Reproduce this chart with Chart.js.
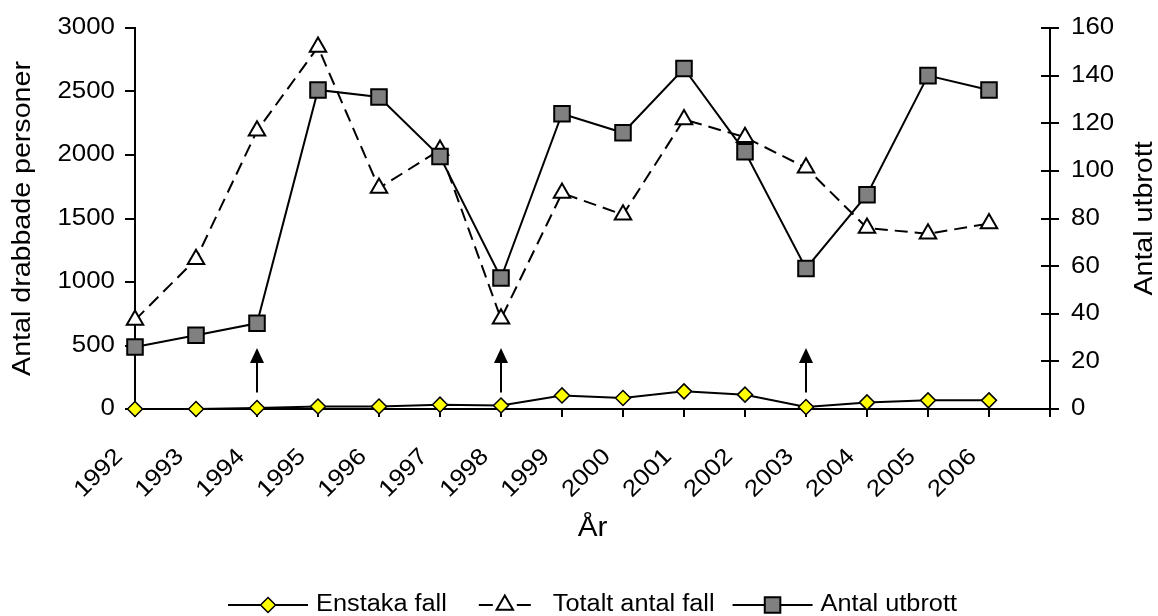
<!DOCTYPE html>
<html>
<head>
<meta charset="utf-8">
<script src="https://cdn.jsdelivr.net/npm/chart.js@4.4.1/dist/chart.umd.min.js"></script>
<style>
  html, body { margin: 0; padding: 0; background: #ffffff; }
  #wrap { width: 1158px; height: 616px; }
</style>
</head>
<body>
<div id="wrap"><canvas id="chart" width="1158" height="616"></canvas></div>
<script>
// Years on the category axis
const years = ['1992', '1993', '1994', '1995', '1996', '1997', '1998', '1999',
               '2000', '2001', '2002', '2003', '2004', '2005', '2006'];

// Persons affected (left axis)
const enstakaFall = [0, 0, 8, 20, 20, 34, 28, 107, 87, 139, 113, 16, 52, 68, 68];
const totaltAntalFall = [700, 1180, 2190, 2850, 1740, 2040, 710, 1700, 1530, 2280, 2140, 1900, 1425, 1380, 1460];

// Number of outbreaks (right axis)
const antalUtbrott = [26, 31, 36, 134, 131, 106, 55, 124, 116, 143, 108, 59, 90, 140, 134];

// Axis ranges and steps
const leftAxis = { min: 0, max: 3000, step: 500 };
const rightAxis = { min: 0, max: 160, step: 20 };

// Years marked with an upward arrow, and the arrow's extent in left-axis units
const arrowYears = ['1994', '1998', '2003'];
const arrowFrom = 130;
const arrowTo = 480;

const seriesNames = ['Enstaka fall', 'Totalt antal fall', 'Antal utbrott'];
const axisTitles = { x: 'År', left: 'Antal drabbade personer', right: 'Antal utbrott' };

const FONT = '"Liberation Sans", Arial, Helvetica, sans-serif';
const TICK_FONT = { family: FONT, size: 23.5 };
const TITLE_FONT = { family: FONT, size: 26 };
const X_TITLE_FONT = { family: FONT, size: 27 };
const LEGEND_SIZE = 23;
const TEXT_STRETCH = 1.1;   // lettering drawn slightly wider than normal

const LAYOUT = { left: 135, right: 1050, top: 28, bottom: 409, xAxisBottom: 548 };

const canvas = document.getElementById('chart');
const ctx2d = canvas.getContext('2d');

// Draw all text horizontally widened, and report the widened width for layout
(function widenText(ctx, sx) {
  const fill = ctx.fillText.bind(ctx);
  const measure = ctx.measureText.bind(ctx);
  ctx.fillText = function (text, x, y) {
    this.save();
    this.translate(x, y);
    this.scale(sx, 1);
    fill(text, 0, 0);
    this.restore();
  };
  ctx.measureText = function (text) {
    const m = measure(text);
    return {
      width: m.width * sx,
      actualBoundingBoxLeft: m.actualBoundingBoxLeft * sx,
      actualBoundingBoxRight: m.actualBoundingBoxRight * sx,
      actualBoundingBoxAscent: m.actualBoundingBoxAscent,
      actualBoundingBoxDescent: m.actualBoundingBoxDescent
    };
  };
})(ctx2d, TEXT_STRETCH);

// Marker drawing used by the legend
function drawMarker(ctx, style, x, y, r, fill, lw) {
  ctx.save();
  ctx.fillStyle = fill;
  ctx.strokeStyle = '#000';
  ctx.lineWidth = lw;
  ctx.beginPath();
  if (style === 'rectRot') {
    ctx.moveTo(x, y - r); ctx.lineTo(x + r, y); ctx.lineTo(x, y + r); ctx.lineTo(x - r, y);
  } else if (style === 'triangle') {
    for (let i = 0; i < 3; i++) {
      const a = i * 2 * Math.PI / 3;
      const px = x + Math.sin(a) * r, py = y - Math.cos(a) * r;
      if (i === 0) ctx.moveTo(px, py); else ctx.lineTo(px, py);
    }
  } else {
    const s = r * Math.SQRT1_2;
    ctx.rect(x - s, y - s, 2 * s, 2 * s);
  }
  ctx.closePath();
  ctx.fill();
  ctx.stroke();
  ctx.restore();
}

const extras = {
  id: 'extras',
  afterDraw(chart) {
    const ctx = chart.ctx;
    const xs = chart.scales.x;
    const yl = chart.scales.y;
    const yr = chart.scales.y1;

    // inner half of the right-axis tick marks
    ctx.save();
    ctx.strokeStyle = '#000';
    ctx.lineWidth = 2;
    yr.ticks.forEach((t, i) => {
      const py = Math.round(yr.getPixelForTick(i));
      ctx.beginPath();
      ctx.moveTo(yr.left - 9, py);
      ctx.lineTo(yr.left, py);
      ctx.stroke();
    });
    ctx.restore();

    // arrows
    ctx.save();
    ctx.strokeStyle = '#000';
    ctx.fillStyle = '#000';
    ctx.lineWidth = 2;
    arrowYears.forEach(yr0 => {
      const ax = xs.getPixelForValue(years.indexOf(yr0));
      const y0 = yl.getPixelForValue(arrowFrom);
      const y1 = yl.getPixelForValue(arrowTo);
      ctx.beginPath();
      ctx.moveTo(ax, y0);
      ctx.lineTo(ax, y1 + 12);
      ctx.stroke();
      ctx.beginPath();
      ctx.moveTo(ax, y1);
      ctx.lineTo(ax + 7, y1 + 15);
      ctx.lineTo(ax - 7, y1 + 15);
      ctx.closePath();
      ctx.fill();
    });
    ctx.restore();

    // right axis title, reading bottom to top
    ctx.save();
    ctx.fillStyle = '#000';
    ctx.font = `${TITLE_FONT.size}px ${FONT}`;
    ctx.textAlign = 'center';
    ctx.textBaseline = 'middle';
    ctx.translate(1145, (yr.top + yr.bottom) / 2);
    ctx.rotate(-Math.PI / 2);
    ctx.fillText(axisTitles.right, 0, 0);
    ctx.restore();

    // legend
    const ds = chart.data.datasets;
    ctx.save();
    ctx.font = `${LEGEND_SIZE}px ${FONT}`;
    ctx.textAlign = 'left';
    ctx.textBaseline = 'middle';
    ctx.fillStyle = '#000';
    const symW = 80, gapT = 8, gapI = 18;
    const widths = ds.map(d => ctx.measureText(d.label).width);
    const total = widths.reduce((a, b) => a + b, 0) + ds.length * (symW + gapT) + (ds.length - 1) * gapI;
    let x = (LAYOUT.left + LAYOUT.right) / 2 - total / 2;
    const ly = 605;
    ds.forEach((d, i) => {
      ctx.save();
      ctx.strokeStyle = '#000';
      ctx.lineWidth = 2;
      if (d.borderDash && d.borderDash.length) {
        const cx = x + symW / 2;
        ctx.beginPath();
        ctx.moveTo(cx - 26, ly); ctx.lineTo(cx - 12, ly);
        ctx.moveTo(cx + 12, ly); ctx.lineTo(cx + 26, ly);
        ctx.stroke();
      } else {
        ctx.beginPath();
        ctx.moveTo(x, ly); ctx.lineTo(x + symW, ly);
        ctx.stroke();
      }
      ctx.restore();
      drawMarker(ctx, d.pointStyle, x + symW / 2, ly, d.pointRadius, d.pointBackgroundColor, d.pointBorderWidth);
      ctx.fillText(d.label, x + symW + gapT, ly);
      x += symW + gapT + widths[i] + gapI;
    });
    ctx.restore();
  }
};

const axisGrid = { display: true, drawOnChartArea: false, drawTicks: true, color: '#000', lineWidth: 2 };
const plainNumber = v => String(v);

new Chart(canvas, {
  type: 'line',
  data: {
    labels: [...years, ''],
    datasets: [
      {
        label: seriesNames[0],
        data: enstakaFall,
        yAxisID: 'y',
        order: 3,
        borderColor: '#000', borderWidth: 2, tension: 0,
        pointStyle: 'rectRot', pointRadius: 7.5,
        pointBackgroundColor: '#ffff00', pointBorderColor: '#000', pointBorderWidth: 1.5,
        clip: false
      },
      {
        label: seriesNames[1],
        data: totaltAntalFall,
        yAxisID: 'y',
        order: 2,
        borderColor: '#000', borderWidth: 2, borderDash: [13, 7], tension: 0,
        pointStyle: 'triangle', pointRadius: 9.5,
        pointBackgroundColor: '#ffffff', pointBorderColor: '#000', pointBorderWidth: 2,
        clip: false
      },
      {
        label: seriesNames[2],
        data: antalUtbrott,
        yAxisID: 'y1',
        order: 1,
        borderColor: '#000', borderWidth: 2, tension: 0,
        pointStyle: 'rect', pointRadius: 11,
        pointBackgroundColor: '#808080', pointBorderColor: '#000', pointBorderWidth: 2,
        clip: false
      }
    ]
  },
  options: {
    responsive: false,
    animation: false,
    devicePixelRatio: 1,
    events: [],
    layout: { padding: { top: LAYOUT.top, bottom: 616 - LAYOUT.xAxisBottom, left: 0, right: 0 } },
    plugins: { legend: { display: false }, tooltip: { enabled: false }, title: { display: false } },
    scales: {
      x: {
        type: 'category',
        offset: false,
        grid: { ...axisGrid, tickLength: 8 },
        border: { display: true, color: '#000', width: 2 },
        ticks: { color: '#000', font: TICK_FONT, autoSkip: false, maxRotation: 45, minRotation: 45, padding: 26, labelOffset: -16 },
        title: { display: true, text: axisTitles.x, color: '#000', font: X_TITLE_FONT, padding: { top: 2, bottom: 3 } },
        afterFit(s) { s.height = LAYOUT.xAxisBottom - LAYOUT.bottom; }
      },
      y: {
        position: 'left',
        min: leftAxis.min, max: leftAxis.max,
        grid: { ...axisGrid, tickLength: 10 },
        border: { display: true, color: '#000', width: 2 },
        ticks: { color: '#000', font: TICK_FONT, stepSize: leftAxis.step, padding: 10, callback: plainNumber },
        title: { display: true, text: axisTitles.left, color: '#000', font: TITLE_FONT, padding: { top: 7, bottom: 4 } },
        afterFit(s) { s.width = LAYOUT.left; }
      },
      y1: {
        position: 'right',
        min: rightAxis.min, max: rightAxis.max,
        grid: { ...axisGrid, tickLength: 9 },
        border: { display: true, color: '#000', width: 2 },
        ticks: { color: '#000', font: TICK_FONT, stepSize: rightAxis.step, padding: 12, callback: plainNumber },
        afterFit(s) { s.width = 1158 - LAYOUT.right; }
      }
    }
  },
  plugins: [extras]
});
</script>
</body>
</html>
